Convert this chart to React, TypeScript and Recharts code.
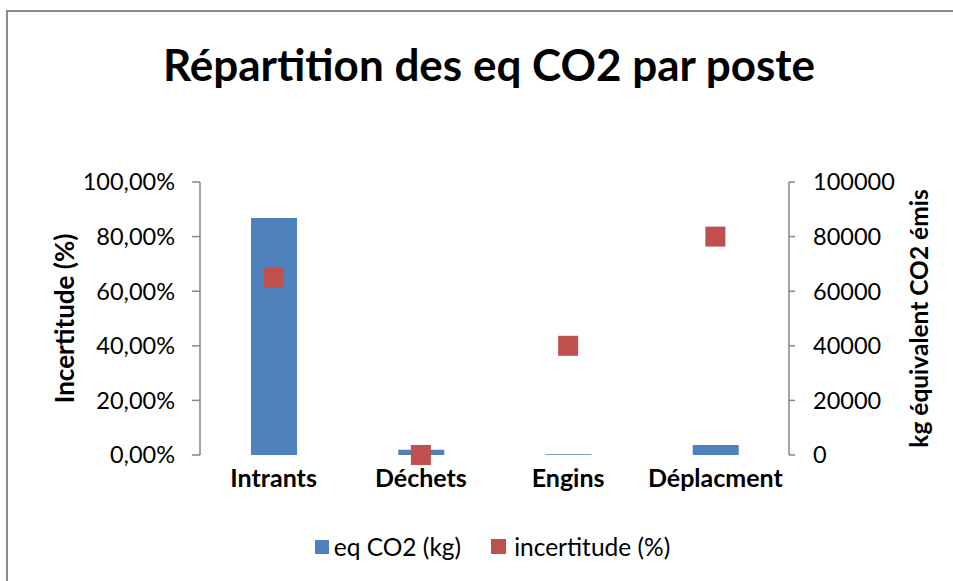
import React from "react";
import {
  ComposedChart,
  Bar,
  Scatter,
  XAxis,
  YAxis,
  Legend,
} from "recharts";

const categories = ["Intrants", "Déchets", "Engins", "Déplacment"];
const co2Kg = [86800, 1900, 300, 3700];
const incertitude = [0.65, 0.0, 0.4, 0.8];
const leftTicks = [0, 0.2, 0.4, 0.6, 0.8, 1];
const rightTicks = [0, 20000, 40000, 60000, 80000, 100000];

const data = categories.map((c, i) => ({
  name: c,
  co2: co2Kg[i],
  inc: incertitude[i],
}));

const FONT = "Lato, 'Open Sans', sans-serif";
const BLUE = "#4F81BD";
const RED = "#C0504D";
const AXIS = "#868686";

const pctFmt = (v: number) => (v * 100).toFixed(2).replace(".", ",") + "%";

const AxisTitle = (props: any) => {
  const { viewBox, value, dx, size } = props;
  const cx = viewBox.x + dx;
  const cy = viewBox.y + viewBox.height / 2;
  return (
    <text
      x={cx}
      y={cy}
      transform={`rotate(-90, ${cx}, ${cy})`}
      textAnchor="middle"
      dominantBaseline="central"
      fontFamily={FONT}
      fontWeight={700}
      fontSize={size}
      fill="#000"
    >
      {value}
    </text>
  );
};

const SquareShape = (props: any) => {
  const { cx, cy } = props;
  if (cx == null || cy == null) return null;
  return <rect x={cx - 10} y={cy - 10} width={20} height={20} fill={RED} />;
};

const LegendContent = () => (
  <div
    style={{
      display: "flex",
      justifyContent: "center",
      alignItems: "center",
      fontFamily: FONT,
      fontSize: 24.5,
      color: "#000",
    }}
  >
    <span style={{ display: "inline-block", width: 14, height: 14, background: BLUE, marginRight: 5 }} />
    <span style={{ marginRight: 30 }}>eq CO2 (kg)</span>
    <span style={{ display: "inline-block", width: 15, height: 15, background: RED, marginRight: 8 }} />
    <span>incertitude (%)</span>
  </div>
);

export default function App() {
  return (
    <div
      style={{
        position: "absolute",
        left: 0,
        top: 0,
        width: 953,
        height: 581,
        overflow: "hidden",
        background: "#fff",
      }}
    >
      <div
        style={{
          position: "absolute",
          left: 6,
          top: 10,
          width: 1100,
          height: 1100,
          border: "2px solid #8c8c8c",
          boxSizing: "border-box",
        }}
      />
      <div
        style={{
          position: "absolute",
          left: 0,
          top: 36,
          width: 978,
          textAlign: "center",
          fontFamily: FONT,
          fontWeight: 700,
          fontSize: 44,
          color: "#000",
          lineHeight: "56px",
        }}
      >
        Répartition des eq CO2 par poste
      </div>
      <div style={{ position: "absolute", left: 0, top: 0 }}>
        <ComposedChart
          width={953}
          height={581}
          data={data}
          margin={{ top: 182, right: 0, bottom: 86, left: 0 }}
          barSize={46}
        >
          <XAxis
            dataKey="name"
            height={40}
            axisLine={false}
            tickLine={false}
            tickMargin={8}
            tick={{ fontFamily: FONT, fontWeight: 700, fontSize: 25, fill: "#000" }}
            interval={0}
          />
          <YAxis
            yAxisId="left"
            orientation="left"
            width={200}
            domain={[0, 1]}
            ticks={leftTicks}
            tickFormatter={pctFmt}
            axisLine={{ stroke: AXIS, strokeWidth: 1.5 }}
            tickLine={{ stroke: AXIS, strokeWidth: 1.5 }}
            tickSize={8}
            tickMargin={17}
            tick={{ fontFamily: FONT, fontSize: 23.5, fill: "#000" }}
            interval={0}
            label={<AxisTitle value="Incertitude (%)" dx={64} size={26} />}
          />
          <YAxis
            yAxisId="right"
            orientation="right"
            width={164}
            domain={[0, 100000]}
            ticks={rightTicks}
            axisLine={{ stroke: AXIS, strokeWidth: 1.5 }}
            tickLine={{ stroke: AXIS, strokeWidth: 1.5 }}
            tickSize={6}
            tickMargin={18}
            tick={{ fontFamily: FONT, fontSize: 23.5, fill: "#000" }}
            interval={0}
            label={<AxisTitle value="kg équivalent CO2 émis" dx={129} size={24.5} />}
          />
          <Bar
            yAxisId="right"
            dataKey="co2"
            name="eq CO2 (kg)"
            fill={BLUE}
            isAnimationActive={false}
          />
          <Scatter
            yAxisId="left"
            dataKey="inc"
            name="incertitude (%)"
            fill={RED}
            shape={<SquareShape />}
            isAnimationActive={false}
          />
          <Legend
            layout="horizontal"
            verticalAlign="middle"
            align="center"
            content={<LegendContent />}
            wrapperStyle={{ top: 532, left: 16, width: 953 }}
          />
        </ComposedChart>
      </div>
    </div>
  );
}
